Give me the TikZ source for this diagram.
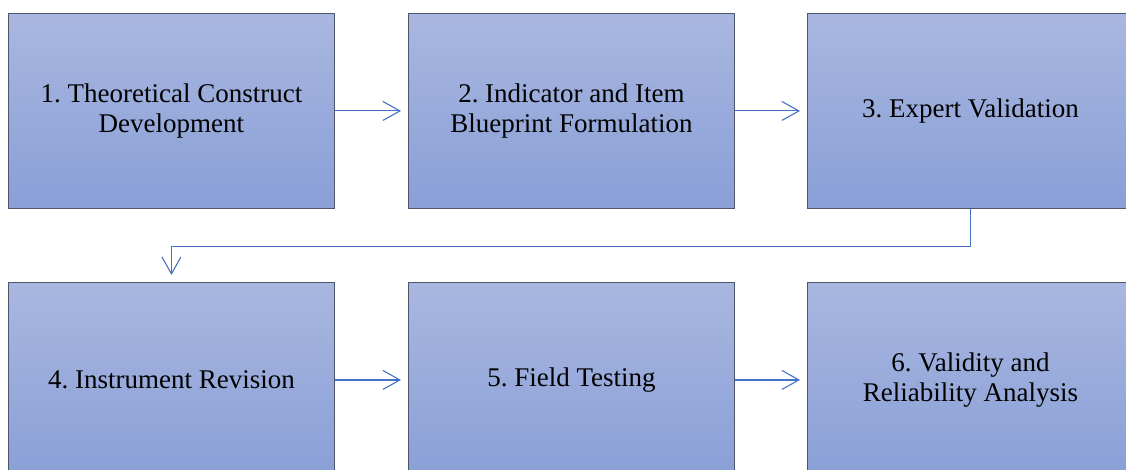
\documentclass[tikz,border=0pt]{standalone}
\usepackage{fontspec}
\setmainfont{Liberation Serif}
\usetikzlibrary{arrows.meta}
\definecolor{boxtop}{HTML}{A9B7E0}
\definecolor{boxbot}{HTML}{899FD7}
\definecolor{boxline}{HTML}{50566A}
\definecolor{linkblue}{HTML}{4472C4}
\frenchspacing
\tikzset{
  stage/.style={draw=boxline, line width=0.9pt, top color=boxtop, bottom color=boxbot,
    minimum width=326pt, minimum height=195pt, inner sep=0pt, align=center,
    anchor=north west, font=\fontsize{27}{30}\selectfont},
  flow/.style={draw=linkblue, line width=1.1pt, shorten >=7pt,
    -{Straight Barb[length=17pt, width=19pt, line width=1.1pt]}}
}
\begin{document}
\begin{tikzpicture}[x=1pt, y=-1pt]
  \useasboundingbox (0,0) rectangle (1126,470);
  \clip (0,0) rectangle (1126,470);
  % first row
  \node[stage] (s1) at (8,13)   {1. Theoretical Construct\\Development};
  \node[stage] (s2) at (408,13) {2. Indicator and Item\\Blueprint Formulation};
  \node[stage] (s3) at (807,13) {3. Expert Validation};
  % second row
  \node[stage] (s4) at (8,282)   {4. Instrument Revision};
  \node[stage] (s5) at (408,282) {5. Field Testing};
  \node[stage] (s6) at (807,282) {6. Validity and\\Reliability Analysis};
  % connectors
  \draw[flow] (s1.east) -- (s2.west);
  \draw[flow] (s2.east) -- (s3.west);
  \coordinate (turn) at ([yshift=-37.5pt]s3.south);
  \draw[flow] (s3.south) -- (turn) -| (s4.north);
  \draw[flow] (s4.east) -- (s5.west);
  \draw[flow] (s5.east) -- (s6.west);
\end{tikzpicture}
\end{document}
